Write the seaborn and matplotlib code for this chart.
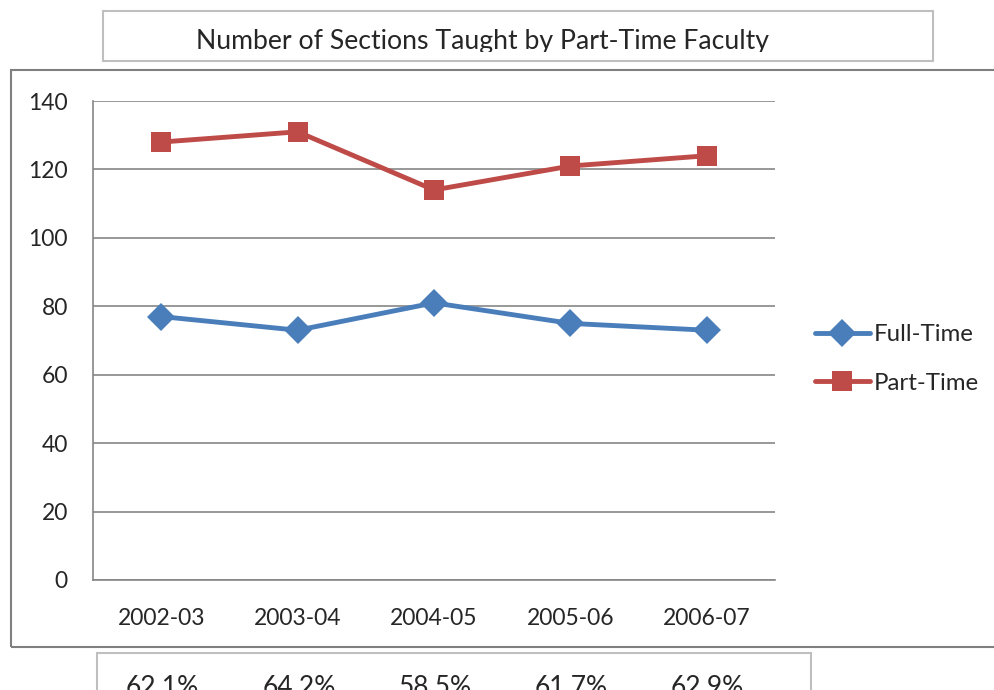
import numpy as np
import pandas as pd
import matplotlib
matplotlib.use('Agg')
import matplotlib.pyplot as plt
import seaborn as sns
from matplotlib.patches import Rectangle
from matplotlib.transforms import Bbox, TransformedBbox

years = ['2002-03', '2003-04', '2004-05', '2005-06', '2006-07']
full_time = [77, 73, 81, 75, 73]
part_time = [128, 131, 114, 121, 124]
pct_part = ['62.1%', '64.2%', '58.5%', '61.7%', '62.9%']
title = 'Number of Sections Taught by Part-Time Faculty'

df = pd.DataFrame({'year': years * 2,
                   'n': full_time + part_time,
                   'who': ['Full-Time'] * 5 + ['Part-Time'] * 5})

sns.set_style('white')
plt.rcParams['font.family'] = ['Lato', 'DejaVu Sans']

W, H = 995, 690
fig = plt.figure(figsize=(W / 100, H / 100), dpi=100)

def fx(px):
    return px / W

def fy(py):
    return 1 - py / H

ax = fig.add_axes([fx(93), fy(580), fx(775) - fx(93), fy(101) - fy(580)])

pal = {'Full-Time': '#4A7EBB', 'Part-Time': '#BE4B48'}
sns.lineplot(data=df, x='year', y='n', hue='who', style='who',
             markers={'Full-Time': 'D', 'Part-Time': 's'}, dashes=False,
             palette=pal, linewidth=3.5, markersize=14, markeredgewidth=0,
             sort=False, ax=ax, zorder=3)

ax.set_xlim(-0.5, 4.5)
ax.set_ylim(0, 140)
ax.set_yticks(range(0, 141, 20))
ax.set_xlabel('')
ax.set_ylabel('')
ax.set_xticks(np.arange(-0.5, 4.6, 1))
ax.set_xticklabels([])
ax.set_xticks(range(5), minor=True)
ax.set_xticklabels(years, minor=True)
ax.tick_params(axis='x', which='major', length=8, width=1.2, color='#868686', direction='out')
ax.tick_params(axis='x', which='minor', length=0, pad=20, labelsize=16.5)
ax.tick_params(axis='y', length=8, width=1.2, color='#868686', direction='out', pad=10, labelsize=16.5)
ax.grid(axis='y', color='#868686', linewidth=1.2)
ax.set_axisbelow(True)
for s in ['top', 'right']:
    ax.spines[s].set_visible(False)
for s in ['left', 'bottom']:
    ax.spines[s].set_color('#868686')
    ax.spines[s].set_linewidth(1.2)

handles, labels = ax.get_legend_handles_labels()
leg = ax.legend(handles, labels, loc='center left', bbox_to_anchor=(fx(793), fy(359)),
                bbox_transform=fig.transFigure, frameon=False, fontsize=17.3,
                handlelength=2.3, handletextpad=0.15, labelspacing=1.15)
for ln in leg.get_lines():
    ln.set_linewidth(3.5)

# outer chart box
fig.patches.append(Rectangle((fx(11), fy(647)), fx(1000) - fx(11), fy(70) - fy(647),
                             transform=fig.transFigure, fill=False,
                             edgecolor='#7f7f7f', linewidth=1.5, zorder=0))
# title box
fig.patches.append(Rectangle((fx(103), fy(61)), fx(933) - fx(103), fy(11) - fy(61),
                             transform=fig.transFigure, fill=False,
                             edgecolor='#bfbfbf', linewidth=1.5))
t = fig.text(fx(483), fy(49), title, ha='center', va='baseline', fontsize=19.2)
t.set_clip_box(TransformedBbox(Bbox([[fx(103), fy(52)], [fx(933), fy(11)]]), fig.transFigure))
t.set_clip_on(True)

# bottom box with percentages (cut off by the picture edge, as in the original)
fig.patches.append(Rectangle((fx(97), fy(700)), fx(811) - fx(97), fy(653) - fy(700),
                             transform=fig.transFigure, fill=False,
                             edgecolor='#bfbfbf', linewidth=1.5))
xs = [162, 299, 435, 571, 707]
for x, p in zip(xs, pct_part):
    fig.text(fx(x), fy(695), p, ha='center', va='baseline', fontsize=19)

fig.savefig('out.png', dpi=100)
